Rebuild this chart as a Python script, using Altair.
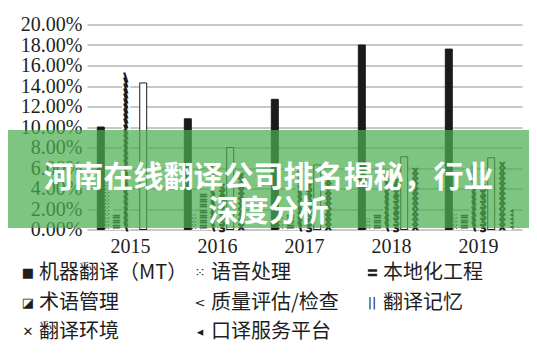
import altair as alt
import pandas as pd

# ---------------- data ----------------
years = ["2015", "2016", "2017", "2018", "2019"]
series = ["机器翻译（MT）", "语音处理", "本地化工程", "术语管理",
          "质量评估/检查", "翻译记忆", "翻译环境", "口译服务平台"]

mt_vals = [10.0, 10.8, 12.7, 18.0, 17.6]
speech_vals = [5.0, 1.5, 1.3, 1.2, 1.4]
loc_vals = [1.7, 3.3, 1.7, 1.7, 1.7]
term_vals = [14.8, 5.8, 5.5, 5.5, 5.8]
quality_vals = [0.0, 4.5, 4.6, 4.8, 4.5]
tm_vals = [14.3, 8.0, 6.3, 7.1, 7.0]
env_vals = [0.0, 5.5, 5.6, 5.8, 6.6]
interp_vals = [0.0, 0.0, 0.0, 0.0, 2.0]

y_ticks = [0, 2, 4, 6, 8, 10, 12, 14, 16, 18, 20]
banner_title = "河南在线翻译公司排名揭秘，行业\n深度分析"

all_vals = [mt_vals, speech_vals, loc_vals, term_vals, quality_vals,
            tm_vals, env_vals, interp_vals]
rows = []
for s, vals in zip(series, all_vals):
    for y, v in zip(years, vals):
        rows.append({"year": y, "series": s, "value": v})
df = pd.DataFrame(rows)

# ---------------- styles ----------------
fills = ["#1b1b1b", "#ffffff", "#ffffff", "#ffffff", "#ffffff", "#ffffff", "#ffffff", "#ffffff"]
strokes = ["#1b1b1b", "#ffffff", "#ffffff", "#ffffff", "#ffffff", "#1b1b1b", "#ffffff", "#ffffff"]

# glyph pattern per series: (glyph, fontSize, step in %, weight, outline width)
patterns = {
    "语音处理": ("⁙", 8, 0.35, "normal", 0.0),
    "本地化工程": ("=", 11, 0.5, "bold", 0.3),
    "术语管理": ("\\", 11, 0.5, "bold", 0.9),
    "质量评估/检查": ("ʒ", 10, 0.55, "bold", 0.5),
    "翻译环境": ("x", 10, 0.5, "bold", 0.5),
    "口译服务平台": ("◂", 8, 0.4, "normal", 0.0),
}
legend_glyphs = {
    "机器翻译（MT）": "■", "语音处理": "⁙", "本地化工程": "〓", "术语管理": "◪",
    "质量评估/检查": "<", "翻译记忆": "||", "翻译环境": "✕", "口译服务平台": "◂",
}

text_col = "#1e1e1e"


def xs():
    return alt.Scale(domain=years, paddingInner=0.22, paddingOuter=0.11)


def xos():
    return alt.Scale(domain=series, paddingInner=0.18, paddingOuter=0.09)


def ys():
    return alt.Scale(domain=[0, 20], nice=False, zero=True)


xaxis = alt.Axis(title=None, labelAngle=0, labelFont="Liberation Serif", labelFontSize=20,
                 labelColor=text_col, ticks=False, domain=False, labelPadding=7, grid=False)
yaxis = alt.Axis(title=None, values=y_ticks, labelExpr="format(datum.value, '.2f') + '%'",
                 labelFont="Liberation Serif", labelFontSize=20, labelColor=text_col,
                 ticks=False, domain=False, labelPadding=5, gridColor="#b4b4b4", gridWidth=1.5)

base = alt.Chart(df).transform_filter("datum.value > 0")

bars = base.mark_bar(strokeWidth=1).encode(
    x=alt.X("year:N", scale=xs(), axis=xaxis),
    xOffset=alt.XOffset("series:N", scale=xos()),
    y=alt.Y("value:Q", scale=ys(), axis=yaxis),
    fill=alt.Fill("series:N", scale=alt.Scale(domain=series, range=fills), legend=None),
    stroke=alt.Stroke("series:N", scale=alt.Scale(domain=series, range=strokes), legend=None),
)

glyph_layers = []
for s, (g, fs, step, wt, sw) in patterns.items():
    mark_kw = dict(text=g, fontSize=fs, fontWeight=wt, font="DejaVu Sans",
                   color="#161616", align="center", baseline="middle")
    if sw > 0:
        mark_kw.update(stroke="#161616", strokeWidth=sw)
    layer = (
        base.transform_filter(alt.datum.series == s)
        .transform_calculate(k=f"sequence({step / 2}, datum.value, {step})")
        .transform_flatten(["k"])
        .mark_text(**mark_kw)
        .encode(
            x=alt.X("year:N", scale=xs(), axis=None),
            xOffset=alt.XOffset("series:N", scale=xos()),
            y=alt.Y("k:Q", scale=ys(), axis=None),
        )
    )
    glyph_layers.append(layer)

# ---------------- legend (3 columns) ----------------
leg_df = pd.DataFrame({"series": series, "idx": list(range(len(series))),
                       "glyph": [legend_glyphs[s] for s in series]})
leg_base = alt.Chart(leg_df).transform_calculate(
    col="datum.idx % 3", row="floor(datum.idx / 3)")


def lx():
    return alt.X("col:Q", scale=alt.Scale(domain=[0, 2], range=[-59, 285]), axis=None)


def ly():
    return alt.Y("row:Q", scale=alt.Scale(domain=[0, 2], range=[248.5, 307.5]), axis=None)


leg_sym = leg_base.mark_text(fontSize=13, font="DejaVu Sans", color=text_col,
                             align="center", baseline="middle").encode(x=lx(), y=ly(), text="glyph:N")
leg_lab = leg_base.mark_text(fontSize=20, font="Noto Sans CJK SC", color=text_col,
                             align="left", baseline="middle", dx=11).encode(x=lx(), y=ly(), text="series:N")

# ---------------- banner overlay ----------------
one = pd.DataFrame({"t": [banner_title]})
banner_rect = alt.Chart(one).mark_rect(color="#4caf50", opacity=0.72).encode(
    x=alt.value(-79), x2=alt.value(442), y=alt.value(105.5), y2=alt.value(203.5))
banner_text = alt.Chart(one).mark_text(
    font="Noto Sans CJK SC", fontSize=30, fontWeight="bold", color="white",
    align="center", baseline="middle", lineBreak="\n", lineHeight=34,
).encode(text="t:N", x=alt.value(181.5), y=alt.value(153.5))

chart = (
    alt.layer(bars, *glyph_layers, banner_rect, banner_text, leg_sym, leg_lab)
    .resolve_scale(x="independent", y="independent", xOffset="independent")
    .properties(width=435, height=205,
                autosize=alt.AutoSizeParams(type="none"),
                padding={"left": 79, "top": 16.5, "right": 7, "bottom": 121.5},
                background="white")
    .configure_view(stroke=None)
)

chart.save("out.html", embed_options={"renderer": "svg", "actions": False})
